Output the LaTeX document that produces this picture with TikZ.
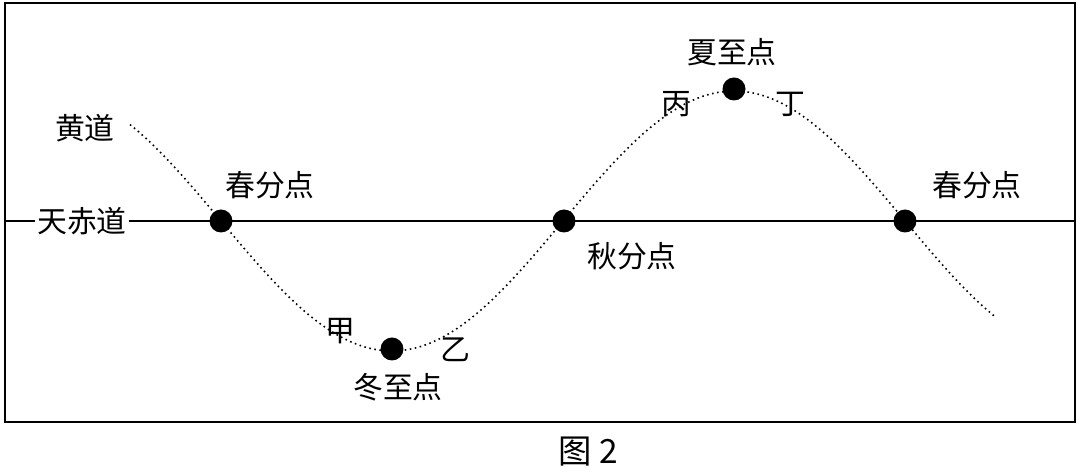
\documentclass[tikz,border=0pt]{standalone}
\usepackage{fontspec}
\newfontfamily\cjk{Noto Sans CJK SC}
\begin{document}
\begin{tikzpicture}[x=0.02cm,y=-0.02cm,
  lab/.style={font=\cjk\fontsize{17}{17}\selectfont,inner sep=1pt},
  pt/.style={circle,fill=black,minimum size=0.46cm,inner sep=0pt}]
\useasboundingbox (0,0) rectangle (1080,472);
\draw[line width=1.2pt] (5,3) rectangle (1075,422);
\node[lab] (eq) at (82,221) {天赤道};
\coordinate (eqL) at (5,221);
\coordinate (eqR) at (1075,221);
\draw[line width=1pt] (eqL) -- (eq.west);
\draw[line width=1pt] (eq.east) -- (eqR);
\draw[dotted,line width=0.9pt] plot[domain=130:995,samples=200,smooth] (\x,{221+130*sin((\x-221)/684*360)});
\node[pt] (p1) at (221,221) {};
\node[pt] (p2) at (564,221) {};
\node[pt] (p3) at (905,221) {};
\node[pt] (w) at (392,349) {};
\node[pt] (s) at (734,89) {};
\node[lab] (hd) at (85,128) {黄道};
\node[lab] (c1) at (270,185) {春分点};
\node[lab] (qf) at (632,256) {秋分点};
\node[lab] (c2) at (977,185) {春分点};
\node[lab] (jia) at (340,331) {甲};
\node[lab] (yi) at (455,350) {乙};
\node[lab] (dz) at (398,387) {冬至点};
\node[lab] (xz) at (732,52) {夏至点};
\node[lab] (bing) at (676,104) {丙};
\node[lab] (ding) at (790,104) {丁};
\node[font=\cjk\fontsize{19}{19}\selectfont] (cap) at (588,452) {图 2};
\end{tikzpicture}
\end{document}
